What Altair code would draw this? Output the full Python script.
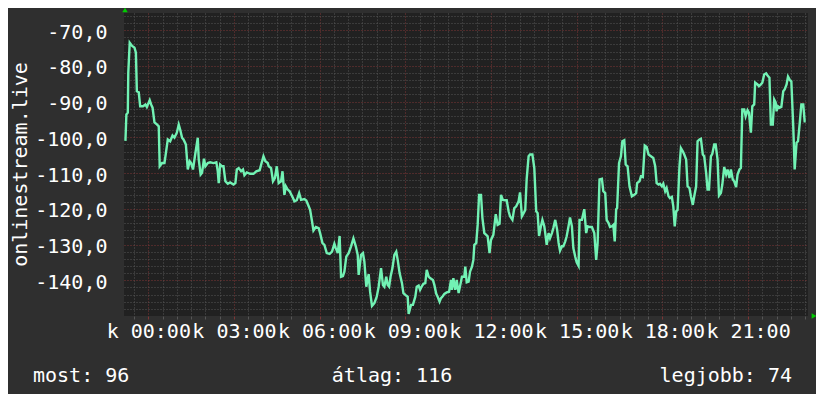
import altair as alt
import pandas as pd

# time in minutes after midnight, value of the series
minutes = [
    -48, -46, -43, -42, -39, -34, -29, -26, -24, -20,
    -17, -11, -6, -3, 3, 6, 9, 13, 18, 22,
    24, 29, 34, 37, 41, 46, 51, 55, 60, 64,
    67, 71, 74, 79, 83, 87, 90, 94, 98, 104,
    106, 110, 113, 117, 120, 125, 130, 137, 143, 146,
    148, 151, 155, 158, 162, 167, 172, 179, 183, 186,
    190, 195, 199, 202, 207, 214, 221, 227, 234, 238,
    242, 246, 251, 253, 258, 262, 266, 270, 274, 279,
    282, 286, 289, 293, 297,
    304, 307, 312, 317, 321, 328, 332, 337, 340, 344,
    347, 352, 358, 361, 366, 370, 375, 381, 386, 391,
    394, 398, 402, 405, 409, 412, 416, 421, 426, 431,
    436, 440, 442, 447, 451, 454, 458, 463, 466, 470,
    475, 480, 484, 489, 493, 496, 500, 503, 506, 509,
    513, 517, 521, 524, 528, 533, 536, 540, 545, 547,
    552, 556, 561, 564, 568, 571, 575, 578, 582, 585,
    589, 592, 598, 601, 605, 608, 612, 615, 619, 622,
    627, 632, 636, 638, 641, 645, 648, 652,
    659, 664, 666, 669, 673, 676, 680, 683, 685, 689,
    692, 695, 699, 702, 706, 710, 713, 717, 720, 725,
    730, 734, 738, 741, 745, 750, 753, 757, 760, 765,
    769, 773, 778, 781, 785, 788, 792, 795, 799, 802,
    807, 811, 815, 818, 821, 825, 828, 832, 834, 837,
    841, 844, 848, 851, 855, 859, 862, 865, 869, 872,
    876, 879, 883, 886, 890, 893, 897, 900, 904, 906,
    911, 916, 920, 923, 928, 932, 937, 939, 941, 944,
    948, 953, 956, 960, 963, 967, 970, 974, 977, 980,
    983, 985, 989, 993, 996, 1000, 1003, 1007, 1011,
    1016, 1021, 1025, 1027, 1032, 1035, 1039, 1043, 1047, 1051,
    1056, 1061, 1065, 1068, 1072, 1075, 1079, 1082, 1086, 1089,
    1093, 1096, 1100, 1103, 1106, 1109, 1112, 1116, 1119, 1123,
    1126, 1130, 1133, 1137, 1140, 1144, 1147, 1151, 1154, 1158,
    1161, 1165, 1168, 1172, 1175, 1178, 1182, 1185, 1189, 1192,
    1196, 1199, 1203, 1206, 1210, 1214, 1217, 1221, 1224, 1228,
    1231, 1235, 1238, 1242, 1245, 1248, 1252, 1255, 1259, 1262,
    1266, 1269, 1273, 1275, 1280, 1283, 1287, 1290, 1294, 1298,
    1301, 1305, 1308, 1312, 1315, 1318, 1320, 1323, 1327, 1330,
    1334, 1337, 1341, 1344, 1348, 1351, 1355, 1358, 1362, 1365,
    1369, 1372, 1376, 1379, 1381,
]

values = [
    -101.0, -93.6, -93.1, -81.9, -73.5, -74.4, -74.9, -76.3, -87.1, -87.4,
    -91.3, -91.3, -90.8, -91.5, -89.6, -90.8, -91.7, -95.8, -96.4, -96.9,
    -108.1, -107.2, -107.2, -104.4, -100.6, -101.1, -99.5, -100.1, -98.7, -96.4,
    -97.8, -100.1, -100.6, -102.0, -109.0, -106.7, -107.2, -109.0, -105.3, -100.1,
    -106.2, -110.4, -109.9, -106.0, -108.1, -107.2, -107.0, -107.2, -107.0, -109.5,
    -112.8, -107.6, -108.1, -108.1, -112.3, -113.0, -112.6, -113.2, -112.8, -109.0,
    -108.6, -109.5, -109.0, -110.6, -109.8, -110.2, -110.2, -109.5, -109.2, -107.2,
    -105.3, -106.7, -107.2, -108.1, -108.6, -112.3, -111.4, -108.1, -112.8, -112.3,
    -109.5, -116.1, -113.7, -114.6, -115.1,
    -117.0, -117.9, -117.6, -115.6, -117.5, -117.3, -117.7, -119.3, -120.3, -123.5,
    -126.1, -125.1, -125.4, -126.8, -129.6, -130.1, -132.4, -132.6, -132.0, -129.8,
    -131.0, -132.4, -127.6, -139.0, -138.8, -137.6, -133.4, -132.4, -130.5, -128.3,
    -130.5, -132.9, -138.5, -132.9, -132.4, -134.8, -141.8, -138.3, -143.2, -147.2,
    -146.4, -144.6, -141.8, -136.6, -141.3, -141.8, -139.0, -141.3, -141.8, -139.0,
    -136.6, -132.9, -132.0, -134.3, -138.0, -140.8, -143.6, -144.1, -144.6, -149.4,
    -146.9, -146.9, -144.6, -141.8, -141.5, -142.7, -141.6, -141.0, -140.8, -137.1,
    -139.0, -139.4, -139.9, -141.3, -143.8, -144.6, -146.0, -145.0, -144.4, -143.8,
    -143.4, -143.2, -139.9, -142.7, -139.4, -142.7, -139.9, -143.6,
    -139.0, -139.0, -136.2, -140.6, -140.4, -137.6, -136.2, -134.3, -130.1, -129.6,
    -124.5, -116.1, -116.1, -122.6, -126.8, -127.3, -127.7, -132.4, -128.7, -127.3,
    -121.5, -124.5, -124.2, -116.1, -117.5, -117.6, -117.6, -120.7, -122.1, -123.1,
    -119.8, -119.3, -117.9, -115.4, -122.1, -121.4, -120.3, -111.6, -105.3, -104.8,
    -104.8, -108.6, -120.7, -121.2, -127.6, -124.8, -123.1, -124.9, -126.8, -130.1,
    -126.8, -128.2, -126.8, -125.4, -123.1, -125.9, -129.5, -131.7, -130.5, -130.5,
    -129.1, -127.7, -124.8, -122.4, -124.9, -131.0, -133.4, -135.0, -136.0, -123.1,
    -123.1, -120.1, -126.8, -124.9, -125.1, -125.1, -126.8, -130.5, -134.3, -129.6,
    -111.8, -111.6, -115.1, -115.6, -123.1, -124.0, -125.1, -124.9, -124.5, -129.1,
    -120.1, -119.8, -107.2, -105.3, -101.1, -100.8, -107.6, -108.1, -113.7,
    -116.5, -116.1, -115.6, -112.8, -112.3, -110.9, -111.1, -102.3, -102.7, -104.8,
    -105.3, -105.8, -108.1, -112.8, -113.2, -113.0, -113.7, -113.0, -115.1, -114.2,
    -116.5, -117.0, -116.7, -119.3, -124.9, -120.7, -120.3, -108.1, -103.0, -103.9,
    -104.8, -106.2, -113.7, -114.2, -116.5, -118.9, -116.5, -113.7, -101.1, -100.6,
    -100.4, -104.8, -105.3, -110.0, -114.6, -114.6, -105.3, -104.6, -102.0, -102.0,
    -106.2, -116.3, -115.6, -113.2, -108.3, -110.4, -109.0, -111.4, -109.0, -111.8,
    -112.3, -113.9, -110.4, -109.0, -108.6, -92.2, -92.2, -94.1, -92.4, -93.1,
    -98.7, -91.3, -90.8, -84.7, -85.2, -85.7, -85.2, -84.7, -82.4, -82.1,
    -82.7, -83.3, -96.4, -96.4, -89.4, -90.2, -92.7, -91.3, -91.7, -91.5,
    -87.1, -86.6, -85.2, -83.0, -84.0, -84.3, -96.9, -109.0, -101.5, -101.1,
    -95.5, -90.8, -90.8, -95.5, -95.5,
]

major_hours = [0, 3, 6, 9, 12, 15, 18, 21]
major_values = [-140, -130, -120, -110, -100, -90, -80, -70]
series_title = "onlinestream.live"
stat_texts = ["most: 96", "átlag: 116", "legjobb: 74"]

assert len(minutes) == len(values)
df = pd.DataFrame({"t": minutes, "v": values})

FONT = "DejaVu Sans Mono"
BG = "#2f2f2f"
PLOT_BG = "#212121"
MINOR = "#565656"
MAJOR = "#7e3636"
LINE = "#72f2b4"
TEXT = "#ffffff"

x_scale = alt.Scale(domain=[-51, 1386], nice=False, zero=False)
y_scale = alt.Scale(domain=[-150, -65.2], nice=False, zero=False)

major_x = [h * 60 for h in major_hours]
minor_x = [m for m in range(-30, 1386, 30) if m not in major_x]
minor_y = [v for v in range(-148, -65, 2) if v not in major_values]

base = alt.Chart(df)

minor_layer = base.mark_line(opacity=0).encode(
    x=alt.X("t:Q", scale=x_scale, axis=alt.Axis(
        orient="bottom", values=minor_x, grid=True, gridColor=MINOR,
        gridDash=[1, 2], labels=False, domain=False, ticks=True,
        tickColor=MINOR, tickSize=3, title=None)),
    y=alt.Y("v:Q", scale=y_scale, axis=alt.Axis(
        orient="left", values=minor_y, grid=True, gridColor=MINOR,
        gridDash=[1, 2], labels=False, domain=False, ticks=False, title=None)),
)

major_layer = base.mark_line(opacity=0).encode(
    x=alt.X("t:Q", scale=x_scale, axis=alt.Axis(
        orient="bottom", values=major_x, grid=True, gridColor=MAJOR,
        gridDash=[1, 2], domain=False, ticks=True, tickColor=MAJOR,
        tickSize=3, labelOverlap=False, labelFlush=False, labelBound=False,
        labelExpr="'k ' + (datum.value / 60 < 10 ? '0' : '') + (datum.value / 60) + ':00'",
        labelFont=FONT, labelFontSize=20, labelColor=TEXT,
        labelBaseline="alphabetic", labelPadding=18, title=None)),
    y=alt.Y("v:Q", scale=y_scale, axis=alt.Axis(
        orient="left", values=major_values, grid=True, gridColor=MAJOR,
        gridDash=[1, 2], domain=False, ticks=False, labelOverlap=False,
        labelExpr="'-' + abs(datum.value) + ',0'",
        labelFont=FONT, labelFontSize=20, labelColor=TEXT,
        labelPadding=17, labelBaseline="middle", labelOffset=2,
        title=series_title, titleFont=FONT, titleFontSize=20,
        titleFontWeight="normal", titleColor=TEXT, titleAngle=270,
        titleX=-104, titleY=151, titleAlign="center",
        titleBaseline="middle")),
)

line_layer = base.mark_line(color=LINE, strokeWidth=2.4).encode(
    x=alt.X("t:Q", scale=x_scale, axis=None),
    y=alt.Y("v:Q", scale=y_scale, axis=None),
)

txt_df = pd.DataFrame({"label": stat_texts})


def stat_text(i, xpos, align):
    return alt.Chart(txt_df.iloc[[i]]).mark_text(
        font=FONT, fontSize=20, color=TEXT, align=align, baseline="alphabetic"
    ).encode(text="label:N", x=alt.value(xpos), y=alt.value(368.5))


t1 = stat_text(0, -91, "left")
t2 = stat_text(1, 268, "center")
t3 = stat_text(2, 668, "right")

arrow_up = alt.Chart(txt_df.iloc[[0]]).mark_point(
    shape="triangle-up", filled=True, color="#00cc00", size=30, opacity=1
).encode(x=alt.value(1), y=alt.value(-3))
arrow_right = alt.Chart(txt_df.iloc[[0]]).mark_point(
    shape="triangle-right", filled=True, color="#00cc00", size=30, opacity=1
).encode(x=alt.value(690), y=alt.value(303))

chart = alt.layer(
    minor_layer, major_layer, line_layer, t1, t2, t3, arrow_up, arrow_right
).resolve_axis(x="independent", y="independent").properties(
    width=684, height=303,
    autosize=alt.AutoSizeParams(type="none"),
    padding={"left": 116, "top": 5, "right": 8, "bottom": 78},
    background=BG,
).configure_view(fill=PLOT_BG, stroke=None)

chart.save("out.html", embed_options={"renderer": "svg", "actions": False})
